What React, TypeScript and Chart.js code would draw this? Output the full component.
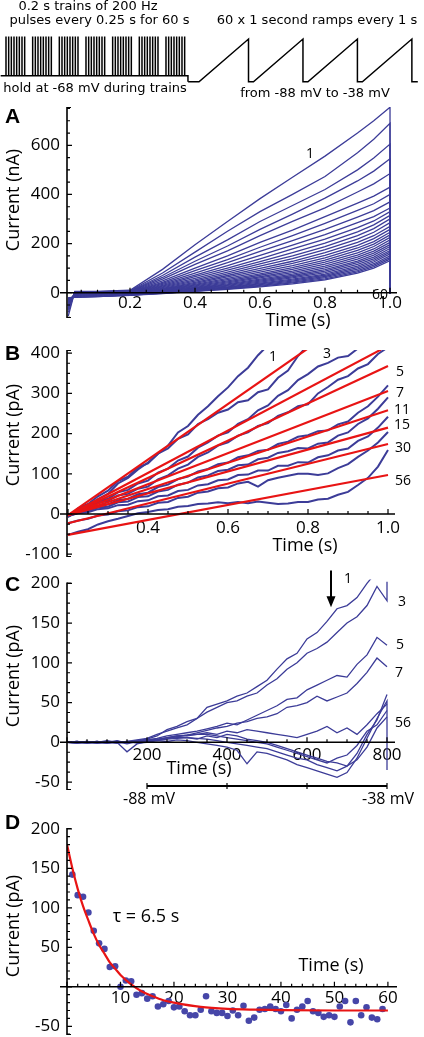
import React, { useEffect, useRef } from 'react';
import { Chart, registerables } from 'chart.js';

Chart.register(...registerables);

const BLUE = 'rgb(60,60,152)';
const DOT = 'rgb(70,70,168)';
const RED = 'rgb(232,20,20)';
const TICK_FONT = { family: "'Open Sans', sans-serif", size: 17 };

// ---------- stimulus protocol (schematic levels) ----------
const trainStarts = [0, 0.25, 0.5, 0.75, 1.0, 1.25, 1.5];
const pulseOffsets = [0, 0.025, 0.05, 0.075, 0.1, 0.125, 0.15, 0.175];
const trainSectionStart = -0.05;
const trainSectionEnd = 1.706;
const holdLevel = -81;
const pulseLevel = -35;
const rampStarts = [0, 1.1, 2.2, 3.3];
const rampLength = 1.0;
const rampSectionStart = -0.22;
const rampSectionEnd = 4.42;
const rampFrom = -88;
const rampTo = -38;

// ---------- panel A ----------
const aTimes = [0.01, 0.03, 0.1, 0.2, 0.3, 0.4, 0.5, 0.6, 0.7, 0.8, 0.9, 0.95, 1.0, 1.0];
const aTraces = [
  [-95, 5, 5, 10, 95, 195, 290, 383, 470, 556, 650, 700, 755, -4],
  [-80, 3, 4, 8, 80, 165, 250, 330, 400, 473, 570, 625, 690, -4],
  [-70, 2, 3, 6, 70, 145, 215, 290, 355, 420, 500, 548, 605, -4],
  [-65, 0, 2, 5, 62, 128, 190, 258, 320, 385, 455, 495, 545, -4],
  [-60, 0, 1, 4, 55, 115, 170, 232, 290, 345, 410, 443, 485, -4],
  [-55, -2, 0, 3, 48, 100, 150, 205, 255, 310, 365, 393, 430, -4],
  [-50, -3, 0, 2, 42, 90, 135, 185, 232, 282, 335, 362, 400, -4],
  [-50, -4, -1, 1, 38, 80, 122, 168, 212, 258, 308, 334, 370, -4],
  [-45, -5, -2, 0, 34, 72, 110, 152, 194, 236, 285, 310, 345, -4],
  [-45, -6, -3, 0, 30, 65, 100, 138, 178, 218, 265, 292, 330, -4],
  [-40, -6, -3, -1, 27, 58, 92, 127, 163, 202, 248, 276, 315, -4],
  [-40, -7, -4, -2, 24, 52, 84, 117, 150, 188, 232, 261, 300, -4],
  [-38, -8, -5, -2, 21, 47, 77, 108, 139, 175, 218, 246, 285, -4],
  [-36, -8, -6, -3, 18, 42, 70, 99, 128, 163, 205, 232, 270, -4],
  [-35, -9, -6, -3, 16, 38, 64, 91, 119, 152, 193, 220, 258, -4],
  [-34, -10, -7, -4, 14, 34, 58, 84, 110, 142, 182, 208, 246, -4],
  [-33, -10, -8, -4, 12, 31, 53, 77, 102, 133, 172, 198, 235, -4],
  [-32, -11, -8, -5, 10, 28, 48, 71, 95, 124, 162, 188, 225, -4],
  [-30, -12, -9, -5, 8, 25, 44, 65, 88, 116, 153, 178, 215, -4],
  [-30, -12, -10, -6, 7, 22, 40, 60, 82, 108, 145, 169, 205, -4],
  [-28, -13, -10, -6, 5, 20, 36, 55, 76, 101, 137, 161, 196, -4],
  [-28, -14, -11, -7, 4, 18, 33, 51, 70, 94, 129, 153, 188, -4],
  [-26, -14, -12, -7, 3, 16, 30, 47, 65, 88, 122, 145, 180, -4],
  [-26, -15, -12, -8, 2, 14, 27, 43, 60, 82, 115, 138, 172, -4],
  [-25, -16, -13, -8, 1, 12, 24, 39, 55, 76, 108, 131, 165, -4],
  [-24, -16, -14, -9, 0, 10, 22, 36, 51, 71, 102, 125, 158, -4],
  [-23, -17, -14, -9, -1, 9, 20, 33, 47, 66, 96, 118, 150, -4],
  [-22, -18, -15, -10, -2, 7, 18, 30, 43, 61, 90, 112, 143, -4],
  [-22, -18, -16, -10, -3, 6, 16, 27, 40, 56, 85, 106, 137, -4],
  [-20, -19, -16, -11, -4, 5, 14, 24, 36, 52, 80, 100, 130, -4],
];
const aXTicks = [0.2, 0.4, 0.6, 0.8, 1.0];
const aYTicks = [0, 200, 400, 600];

// ---------- panel B ----------
const bTimes = [0.2, 0.225, 0.25, 0.275, 0.3, 0.325, 0.35, 0.375, 0.4, 0.425, 0.45, 0.475, 0.5, 0.525, 0.55, 0.575, 0.6, 0.625, 0.65, 0.675, 0.7, 0.725, 0.75, 0.775, 0.8, 0.825, 0.85, 0.875, 0.9, 0.925, 0.95, 0.975, 1.0];
const bTraces = [
  [-5, 10, 20, 37, 50, 76, 90, 111, 128, 150, 170, 203, 219, 247, 268, 293, 315, 343, 364, 395, 420, null, null, null, null, null, null, null, null, null, null, null, null],
  [-8, 14, 25, 44, 58, 82, 93, 116, 126, 150, 163, 187, 198, 224, 236, 252, 260, 278, 283, 303, 310, 339, 357, 393, 420, null, null, null, null, null, null, null, null],
  [-6, 8, 16, 31, 38, 54, 60, 76, 83, 103, 113, 133, 143, 165, 178, 195, 203, 224, 236, 258, 270, 294, 308, 333, 348, 367, 376, 389, 393, 412, 425, null, null],
  [-6, 7, 13, 27, 33, 46, 50, 63, 68, 86, 96, 113, 123, 142, 153, 170, 178, 195, 203, 219, 226, 244, 253, 268, 273, 300, 316, 334, 343, 362, 373, 398, 415],
  [-6, 5, 11, 20, 24, 34, 38, 49, 53, 67, 73, 87, 93, 106, 112, 124, 128, 141, 146, 157, 160, 174, 180, 192, 196, 206, 208, 223, 230, 252, 268, 292, 320],
  [-6, 3, 7, 16, 18, 29, 31, 42, 44, 56, 60, 73, 78, 91, 96, 107, 110, 121, 123, 136, 140, 152, 156, 164, 163, 175, 178, 195, 203, 224, 238, 262, 290],
  [-5, 2, 4, 12, 14, 22, 23, 32, 34, 44, 46, 57, 60, 71, 74, 84, 86, 97, 98, 108, 108, 120, 120, 129, 128, 141, 146, 158, 163, 182, 193, 215, 242],
  [-23, -16, -12, -4, -1, 7, 9, 17, 19, 28, 30, 40, 43, 53, 56, 64, 66, 76, 80, 68, 84, 90, 95, 100, 100, 97, 101, 114, 124, 142, 158, 178, 204],
  [-52, -44, -38, -26, -18, -12, -5, 2, 5, 10, 12, 18, 20, 25, 26, 29, 27, 30, 27, 31, 28, 25, 26, 30, 30, 36, 38, 48, 55, 72, 90, 118, 159],
];
const bFitStartT = [0.2, 0.2, 0.2, 0.2, 0.2, 0.2, 0.2, 0.2];
const bFitStartV = [-3, -3, -3, -3, -3, -3, -23, -52];
const bFitEndT = [0.8, 0.9825, 1.0, 1.0, 1.0, 1.0, 1.0, 1.0];
const bFitEndV = [412, 409, 368, 306, 258, 215, 174, 97];
const bXTicks = [0.4, 0.6, 0.8, 1.0];
const bYTicks = [-100, 0, 100, 200, 300, 400];

// ---------- panel C ----------
const cTimes = [0, 25, 50, 75, 100, 125, 150, 175, 200, 225, 250, 275, 300, 325, 350, 375, 400, 425, 450, 475, 500, 525, 550, 575, 600, 625, 650, 675, 700, 725, 750, 775, 800, 800];
const cTraces = [
  [0, 1, -1, 0, 2, 0, 1, 3, 5, 10, 14, 18, 22, 30, 44, 48, 52, 58, 62, 70, 78, 92, 105, 112, 130, 138, 152, 168, 172, 182, 200, 215, null, null],
  [0, 0, 1, -1, 0, 2, -1, 2, 4, 8, 16, 20, 26, 30, 38, 44, 50, 52, 58, 62, 72, 80, 92, 100, 112, 118, 126, 138, 150, 158, 172, 196, 178, 202],
  [0, -1, 0, 1, -1, 1, 0, 2, 3, 5, 8, 10, 12, 14, 17, 20, 24, 22, 28, 34, 40, 46, 54, 56, 66, 72, 78, 84, 82, 98, 110, 132, 122, null],
  [0, 1, -1, 0, 1, -1, 1, 1, 2, 3, 5, 7, 9, 12, 15, 18, 20, 24, 26, 30, 32, 36, 44, 46, 50, 58, 52, 57, 62, 74, 88, 106, 95, null],
  [0, 0, 1, -1, 0, 1, -2, 1, 3, 4, 6, 8, 8, 10, 12, 10, 14, 12, 16, 14, 12, 10, 8, 6, 10, 14, 20, 12, 18, 10, 22, 36, 48, null],
  [0, -1, 0, 1, -1, 0, -12, -2, 1, 2, 4, 5, 6, 4, 8, 6, 10, 8, 4, 2, 0, -4, -8, -12, -16, -20, -24, -26, -30, -22, -6, 18, 32, null],
  [0, 1, 0, -1, 1, 0, 1, -1, 0, 2, 1, 3, 2, 0, -2, -4, -6, -10, -27, -12, -14, -18, -22, -28, -32, -36, -40, -44, -38, -20, 5, 30, 52, -35],
  [0, 0, -1, 1, 0, -1, 0, 1, 2, 3, 5, 6, 6, 5, 4, 2, 0, -2, -4, -6, -8, -12, -16, -20, -22, -28, -32, -36, -30, -14, 10, 28, 60, null],
  [0, -1, 1, 0, -1, 1, 0, 2, 1, 3, 6, 8, 9, 10, 10, 8, 6, 4, 2, 0, -2, -6, -10, -14, -18, -22, -26, -20, -16, -4, 14, 22, 40, null],
];
const cXTicks = [200, 400, 600, 800];
const cYTicks = [-50, 0, 50, 100, 150, 200];
const voltBarTimes = [200, 400, 600, 800];
const voltBarLevel = -55;
const cArrowT = 660;
const cArrowFrom = 216;
const cArrowTo = 170;

// ---------- panel D ----------
const dTimes = [1, 2, 3, 4, 5, 6, 7, 8, 9, 10, 11, 12, 13, 14, 15, 16, 17, 18, 19, 20, 21, 22, 23, 24, 25, 26, 27, 28, 29, 30, 31, 32, 33, 34, 35, 36, 37, 38, 39, 40, 41, 42, 43, 44, 45, 46, 47, 48, 49, 50, 51, 52, 53, 54, 55, 56, 57, 58, 59];
const dValues = [142, 116, 114, 94, 71, 55, 48, 25, 26, 0, 8, 7, -10, -8, -15, -12, -25, -22, -18, -26, -25, -31, -36, -36, -29, -12, -31, -33, -33, -37, -30, -36, -24, -43, -39, -29, -28, -25, -28, -31, -23, -40, -29, -25, -18, -31, -33, -38, -36, -38, -25, -18, -45, -18, -36, -26, -39, -41, -28];
const dFitTimes = [0, 1, 2, 3, 4, 5, 6, 7, 8, 9, 10, 12, 14, 16, 18, 20, 25, 30, 35, 40, 50, 60];
const dFitValues = [180, 150, 124, 102, 84, 67, 53, 42, 31, 23, 15, 3, -6, -12, -17, -20, -25.5, -28, -29, -29.5, -30, -30];
const dXTicks = [10, 20, 30, 40, 50, 60];
const dYTicks = [-50, 50, 100, 150, 200];

// ---------- helpers ----------
const lineSet = (xs: number[], ys: (number | null)[], color: string, width: number, extra: any = {}) => ({
  data: xs.map((x, i) => ({ x, y: ys[i] })),
  borderColor: color,
  backgroundColor: color,
  borderWidth: width,
  pointRadius: 0,
  fill: false,
  tension: 0,
  spanGaps: false,
  ...extra,
});

function makeAxesPlugin(o: { xMinor: number; xMajor: number; yMinor: number; yMajor: number; overhang: number }) {
  return {
    id: 'sciAxes',
    afterDatasetsDraw(chart: any) {
      const { ctx, chartArea: a, scales } = chart;
      const xs = scales.x;
      const ys = scales.y;
      const y0 = ys.getPixelForValue(0);
      ctx.save();
      ctx.strokeStyle = '#000';
      ctx.lineWidth = 1.6;
      ctx.beginPath();
      ctx.moveTo(a.left, a.top);
      ctx.lineTo(a.left, a.bottom);
      ctx.moveTo(a.left - o.overhang, y0);
      ctx.lineTo(a.right, y0);
      ctx.stroke();
      ctx.lineWidth = 1.2;
      ctx.beginPath();
      for (let i = Math.ceil(ys.min / o.yMinor - 1e-9); i * o.yMinor <= ys.max + 1e-9; i++) {
        const v = i * o.yMinor;
        const major = Math.abs(v / o.yMajor - Math.round(v / o.yMajor)) < 1e-6;
        const p = ys.getPixelForValue(v);
        ctx.moveTo(a.left, p);
        ctx.lineTo(a.left + (major ? 5 : 3), p);
      }
      ctx.moveTo(a.left, a.top + 0.5);
      ctx.lineTo(a.left + 4, a.top + 0.5);
      ctx.moveTo(a.left, a.bottom - 0.5);
      ctx.lineTo(a.left + 4, a.bottom - 0.5);
      for (let i = Math.ceil(xs.min / o.xMinor - 1e-9); i * o.xMinor <= xs.max + 1e-9; i++) {
        const v = i * o.xMinor;
        const major = Math.abs(v / o.xMajor - Math.round(v / o.xMajor)) < 1e-6;
        const p = xs.getPixelForValue(v);
        ctx.moveTo(p, y0);
        ctx.lineTo(p, y0 - (major ? 5 : 3));
      }
      ctx.stroke();
      ctx.restore();
    },
  };
}

function panelOptions(p: any) {
  return {
    responsive: false,
    animation: false,
    events: [],
    devicePixelRatio: 1,
    layout: { padding: { left: 0, right: p.padding.right, top: p.padding.top, bottom: p.padding.bottom }, autoPadding: false },
    plugins: { legend: { display: false }, tooltip: { enabled: false } },
    scales: {
      x: {
        type: 'linear',
        min: p.xMin,
        max: p.xMax,
        position: { y: 0 },
        grid: { display: false, drawTicks: false },
        border: { display: false },
        afterBuildTicks: (s: any) => {
          s.ticks = p.xTicks.map((v: number) => ({ value: v }));
        },
        afterFit: (s: any) => {
          s.height = 0;
          s.paddingLeft = 0;
          s.paddingRight = 0;
          s.paddingTop = 0;
          s.paddingBottom = 0;
        },
        ticks: {
          autoSkip: false,
          maxRotation: 0,
          minRotation: 0,
          padding: p.xPad,
          color: '#000',
          font: TICK_FONT,
          callback: p.xFmt,
        },
      },
      y: {
        type: 'linear',
        min: p.yMin,
        max: p.yMax,
        position: 'left',
        grid: { display: false, drawTicks: false },
        border: { display: false },
        afterBuildTicks: (s: any) => {
          s.ticks = p.yTicks.map((v: number) => ({ value: v }));
        },
        afterFit: (s: any) => {
          s.width = p.padding.left;
          s.paddingLeft = 0;
          s.paddingRight = 0;
          s.paddingTop = 0;
          s.paddingBottom = 0;
        },
        ticks: {
          autoSkip: false,
          padding: 7,
          color: '#000',
          font: TICK_FONT,
          callback: (v: any) => String(v),
        },
      },
    },
  };
}

const fmt1 = (v: any) => Number(v).toFixed(1);
const fmt0 = (v: any) => String(v);

// ---------- chart configs ----------
function stimConfig() {
  const trainPts: any[] = [{ x: trainSectionStart, y: holdLevel }];
  trainStarts.forEach((s) => {
    pulseOffsets.forEach((o) => {
      trainPts.push({ x: s + o, y: holdLevel }, { x: s + o, y: pulseLevel }, { x: s + o, y: holdLevel });
    });
  });
  trainPts.push({ x: trainSectionEnd, y: holdLevel }, { x: trainSectionEnd, y: rampFrom });
  const rampPts: any[] = [{ x: rampSectionStart, y: rampFrom }];
  rampStarts.forEach((s) => {
    rampPts.push({ x: s, y: rampFrom }, { x: s + rampLength, y: rampTo }, { x: s + rampLength, y: rampFrom });
  });
  rampPts.push({ x: rampSectionEnd, y: rampFrom });
  return {
    type: 'line',
    data: {
      datasets: [
        { data: trainPts, xAxisID: 'xt', borderColor: '#000', borderWidth: 1.5, pointRadius: 0, tension: 0 },
        { data: rampPts, xAxisID: 'xr', borderColor: '#000', borderWidth: 1.5, pointRadius: 0, tension: 0 },
      ],
    },
    options: {
      responsive: false,
      animation: false,
      events: [],
      devicePixelRatio: 1,
      layout: { padding: { left: 0, right: 0, top: 32.2, bottom: 12.3 }, autoPadding: false },
      plugins: { legend: { display: false }, tooltip: { enabled: false } },
      scales: {
        xt: { type: 'linear', display: false, min: -0.05625, max: 3.919 },
        xr: { type: 'linear', display: false, min: -4.02, max: 4.545 },
        y: { type: 'linear', display: false, min: -95, max: -30 },
      },
    },
  };
}

function aConfig() {
  return {
    type: 'line',
    data: { datasets: aTraces.map((t) => lineSet(aTimes, t, BLUE, 1.3)) },
    options: panelOptions({
      padding: { left: 67, right: 27, top: 12, bottom: 17 },
      xMin: 0.00615, xMax: 1.0215, yMin: -103, yMax: 756,
      xTicks: aXTicks, yTicks: aYTicks, xFmt: fmt1, xPad: 0,
    }),
    plugins: [makeAxesPlugin({ xMinor: 0.05, xMajor: 0.2, yMinor: 50, yMajor: 200, overhang: 7 })],
  };
}

function bConfig() {
  const fits = bFitEndV.map((v, i) =>
    lineSet([bFitStartT[i], bFitEndT[i]], [bFitStartV[i], v], RED, 2.2)
  );
  const traces = bTraces.map((t) => lineSet(bTimes, t, BLUE, 2));
  return {
    type: 'line',
    data: { datasets: [...fits, ...traces] },
    options: panelOptions({
      padding: { left: 67, right: 29, top: 15, bottom: 8 },
      xMin: 0.1975, xMax: 1.0175, yMin: -107, yMax: 408,
      xTicks: bXTicks, yTicks: bYTicks, xFmt: fmt1, xPad: 4,
    }),
    plugins: [makeAxesPlugin({ xMinor: 0.05, xMajor: 0.2, yMinor: 25, yMajor: 100, overhang: 7 })],
  };
}

const cExtras = {
  id: 'cExtras',
  afterDraw(chart: any) {
    const { ctx, scales } = chart;
    const x = scales.x;
    const y = scales.y;
    const yb = y.getPixelForValue(voltBarLevel);
    ctx.save();
    ctx.strokeStyle = '#000';
    ctx.lineWidth = 2;
    ctx.beginPath();
    ctx.moveTo(x.getPixelForValue(voltBarTimes[0]), yb);
    ctx.lineTo(x.getPixelForValue(voltBarTimes[voltBarTimes.length - 1]), yb);
    ctx.stroke();
    ctx.lineWidth = 1.2;
    ctx.beginPath();
    voltBarTimes.forEach((t) => {
      const px = x.getPixelForValue(t);
      ctx.moveTo(px, yb - 3);
      ctx.lineTo(px, yb + 3);
    });
    ctx.stroke();
    const ax = x.getPixelForValue(cArrowT);
    const a1 = y.getPixelForValue(cArrowFrom);
    const a2 = y.getPixelForValue(cArrowTo);
    ctx.lineWidth = 2;
    ctx.beginPath();
    ctx.moveTo(ax, a1);
    ctx.lineTo(ax, a2 - 8);
    ctx.stroke();
    ctx.fillStyle = '#000';
    ctx.beginPath();
    ctx.moveTo(ax - 4.5, a2 - 11);
    ctx.lineTo(ax + 4.5, a2 - 11);
    ctx.lineTo(ax, a2);
    ctx.closePath();
    ctx.fill();
    ctx.restore();
  },
};

function cConfig() {
  return {
    type: 'line',
    data: {
      datasets: cTraces.map((t) =>
        lineSet(cTimes, t, BLUE, 1.3, { clip: { left: 0, top: 3, right: 0, bottom: 0 } })
      ),
    },
    options: panelOptions({
      padding: { left: 67, right: 29, top: 17.5, bottom: 20 },
      xMin: 0, xMax: 820, yMin: -60, yMax: 201,
      xTicks: cXTicks, yTicks: cYTicks, xFmt: fmt0, xPad: 3,
    }),
    plugins: [makeAxesPlugin({ xMinor: 50, xMajor: 200, yMinor: 12.5, yMajor: 50, overhang: 7 }), cExtras],
  };
}

function dConfig() {
  return {
    type: 'line',
    data: {
      datasets: [
        lineSet(dFitTimes, dFitValues, RED, 2.2, { cubicInterpolationMode: 'monotone' }),
        {
          data: dTimes.map((t, i) => ({ x: t, y: dValues[i] })),
          showLine: false,
          pointRadius: 3.3,
          pointBorderWidth: 0,
          pointBackgroundColor: DOT,
          borderColor: DOT,
        },
      ],
    },
    options: panelOptions({
      padding: { left: 67, right: 27, top: 18, bottom: 2 },
      xMin: 0, xMax: 61.7, yMin: -61, yMax: 201,
      xTicks: dXTicks, yTicks: dYTicks, xFmt: fmt0, xPad: 1,
    }),
    plugins: [makeAxesPlugin({ xMinor: 2, xMajor: 10, yMinor: 10, yMajor: 50, overhang: 7 })],
  };
}

// ---------- components ----------
function ChartCanvas({ top, height, make }: { top: number; height: number; make: () => any }) {
  const ref = useRef<HTMLCanvasElement>(null);
  useEffect(() => {
    const chart = new Chart(ref.current as HTMLCanvasElement, make());
    return () => chart.destroy();
  }, []);
  return (
    <canvas
      ref={ref}
      width={424}
      height={height}
      style={{ position: 'absolute', left: 0, top, width: 424, height }}
    />
  );
}

function T({ x, y, children, size = 18, family = "'Open Sans', sans-serif", bold = false, rotate = false }: any) {
  return (
    <div
      style={{
        position: 'absolute',
        left: x,
        top: y,
        transform: `translate(-50%, -50%)${rotate ? ' rotate(-90deg)' : ''}`,
        fontFamily: family,
        fontSize: size,
        fontWeight: bold ? 700 : 400,
        lineHeight: 1,
        whiteSpace: 'nowrap',
        color: '#000',
      }}
    >
      {children}
    </div>
  );
}

const STIM_FONT = "'DejaVu Sans', sans-serif";
const LETTER_FONT = "'Liberation Sans', Arial, sans-serif";

export default function App() {
  return (
    <div style={{ position: 'absolute', left: 0, top: 0, width: 424, height: 1037, background: '#fff', overflow: 'hidden' }}>
      <ChartCanvas top={0} height={100} make={stimConfig} />
      <ChartCanvas top={95} height={240} make={aConfig} />
      <ChartCanvas top={335} height={230} make={bConfig} />
      <ChartCanvas top={565} height={245} make={cConfig} />
      <ChartCanvas top={810} height={227} make={dConfig} />

      <T x={88} y={5} size={13} family={STIM_FONT}>0.2 s trains of 200 Hz</T>
      <T x={99.5} y={19} size={13} family={STIM_FONT}>pulses every 0.25 s for 60 s</T>
      <T x={317} y={19} size={13} family={STIM_FONT}>60 x 1 second ramps every 1 s</T>
      <T x={95} y={87} size={13} family={STIM_FONT}>hold at -68 mV during trains</T>
      <T x={315} y={92} size={13} family={STIM_FONT}>from -88 mV to -38 mV</T>

      <T x={12.5} y={115} size={21} bold family={LETTER_FONT}>A</T>
      <T x={12.5} y={351.5} size={21} bold family={LETTER_FONT}>B</T>
      <T x={12.5} y={582.5} size={21} bold family={LETTER_FONT}>C</T>
      <T x={12.5} y={820.5} size={21} bold family={LETTER_FONT}>D</T>

      <T x={12} y={200} rotate>Current (nA)</T>
      <T x={12} y={435} rotate>Current (pA)</T>
      <T x={12} y={676} rotate>Current (pA)</T>
      <T x={12} y={926} rotate>Current (pA)</T>

      <T x={298} y={319}>Time (s)</T>
      <T x={305} y={544}>Time (s)</T>
      <T x={199} y={767}>Time (s)</T>
      <T x={331} y={964}>Time (s)</T>

      <T x={310} y={153} size={14}>1</T>
      <T x={380} y={294} size={14}>60</T>

      <T x={273} y={356} size={14}>1</T>
      <T x={327} y={353} size={14}>3</T>
      <T x={400} y={371} size={14}>5</T>
      <T x={400} y={392} size={14}>7</T>
      <T x={402} y={409} size={14}>11</T>
      <T x={402} y={424} size={14}>15</T>
      <T x={403} y={447} size={14}>30</T>
      <T x={403} y={480} size={14}>56</T>

      <T x={348} y={578} size={14}>1</T>
      <T x={402} y={601} size={14}>3</T>
      <T x={400} y={644} size={14}>5</T>
      <T x={399} y={672} size={14}>7</T>
      <T x={403} y={722} size={14}>56</T>

      <T x={149} y={798} size={16}>-88 mV</T>
      <T x={388} y={798} size={16}>-38 mV</T>

      <T x={146} y={915} size={18}>τ = 6.5 s</T>
    </div>
  );
}
